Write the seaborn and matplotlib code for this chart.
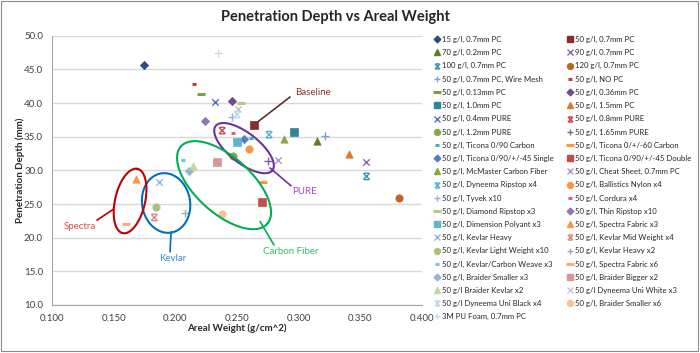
import numpy as np
import pandas as pd
import seaborn as sns
import matplotlib.pyplot as plt
from matplotlib.path import Path
from matplotlib.lines import Line2D
from matplotlib.patches import Rectangle

# series names in the order of the legend
labels = [
    "15 g/l, 0.7mm PC", "50 g/l, 0.7mm PC", "70 g/l, 0.2mm PC", "90 g/l, 0.7mm PC",
    "100 g/l, 0.7mm PC", "120 g/l, 0.7mm PC", "50 g/l, 0.7mm PC, Wire Mesh", "50 g/l, NO PC",
    "50 g/l, 0.13mm PC", "50 g/l, 0.36mm PC", "50 g/l, 1.0mm PC", "50 g/l, 1.5mm PC",
    "50 g/l, 0.4mm PURE", "50 g/l, 0.8mm PURE", "50 g/l, 1.2mm PURE", "50 g/l, 1.65mm PURE",
    "50 g/l, Ticona 0/90 Carbon", "50 g/l, Ticona 0/+/-60 Carbon",
    "50 g/l, Ticona 0/90/+/-45 Single", "50 g/l, Ticona 0/90/+/-45 Double",
    "50 g/l, McMaster Carbon Fiber", "50 g/l, Cheat Sheet, 0.7mm PC",
    "50 g/l, Dyneema Ripstop x4", "50 g/l, Ballistics Nylon x4", "50 g/l, Tyvek x10",
    "50 g/l, Cordura x4", "50 g/l, Diamond Ripstop x3", "50 g/l, Thin Ripstop x10",
    "50 g/l, Dimension Polyant x3", "50 g/l, Spectra Fabric x3", "50 g/l, Kevlar Heavy",
    "50 g/l, Kevlar Mid Weight x4", "50 g/l, Kevlar Light Weight x10", "50 g/l, Kevlar Heavy x2",
    "50 g/l, Kevlar/Carbon Weave x3", "50 g/l, Spectra Fabric x6", "50 g/l, Braider Smaller x3",
    "50 g/l, Braider Bigger x2", "50 g/l Braider Kevlar x2", "50 g/l Dyneema Uni White x3",
    "50 g/l Dyneema Uni Black x4", "50 g/l, Braider Smaller x6", "3M PU Foam, 0.7mm PC",
]
areal_weight = [
    0.175, 0.264, 0.315, 0.355, 0.355, 0.381, 0.321, 0.215,
    0.221, 0.246, 0.296, 0.341, 0.232, 0.238, 0.247, 0.275,
    0.261, 0.271, 0.256, 0.270, 0.288, 0.283, 0.276, 0.260,
    0.246, 0.247, 0.253, 0.224, 0.250, 0.168, 0.187, 0.183,
    0.184, 0.208, 0.206, 0.160, 0.211, 0.234, 0.214, 0.251,
    0.250, 0.238, 0.235,
]
depth = [
    45.7, 36.7, 34.4, 31.3, 29.1, 25.9, 35.1, 42.9,
    41.4, 40.3, 35.7, 32.4, 40.2, 35.9, 32.1, 31.4,
    34.8, 28.3, 34.7, 25.3, 34.6, 31.5, 35.3, 33.2,
    37.9, 35.5, 40.0, 37.4, 34.2, 28.7, 28.3, 23.0,
    24.5, 23.7, 31.6, 22.0, 29.9, 31.2, 30.7, 39.1,
    38.3, 23.5, 47.5,
]
colors = [
    "#2B4C7E", "#8A2C2A", "#5E7D2D", "#7F6FA8", "#3F95AE", "#C0632A", "#7F9FD0", "#B8403D",
    "#7EA044", "#6A4E8E", "#31859C", "#E0782F", "#4F75B5", "#C0504D", "#86A74A", "#8064A2",
    "#4BACC6", "#F79646", "#4F81BD", "#C0504D", "#8AA83F", "#A99BC8", "#5DB3CC", "#F79646",
    "#95B3D7", "#D9696A", "#B3CC7A", "#8E78B0", "#5FB4CF", "#F79646", "#9AB2DA", "#D98C8A",
    "#A9C479", "#AE9ECA", "#7FC0D6", "#F9AC7A", "#95B3D7", "#D99694", "#C3D69B", "#CCC1DA",
    "#B7DEE8", "#FAC090", "#C6D9F1",
]

df = pd.DataFrame({"series": labels, "x": areal_weight, "y": depth, "color": colors})

# Excel-like marker cycle: diamond, square, triangle, x, star, circle, plus, short dash, long dash
star = Path([(-1, -1), (1, 1), (-1, 1), (1, -1), (-0.7, 1), (0.7, 1), (-0.7, -1), (0.7, -1)],
            [Path.MOVETO, Path.LINETO] * 4)
marker_cycle = [
    ("D", 18, "fill", 0.5), ("s", 26, "fill", 0.5), ("^", 28, "fill", 0.5),
    ("x", 22, "line", 1.0), (star, 22, "path", 1.0), ("o", 28, "fill", 0.5),
    ("+", 30, "line", 1.0), ("_", 12, "line", 2.2), ("_", 40, "line", 2.2),
]

sns.set_style("white")
plt.rcParams["font.family"] = ["Lato", "DejaVu Sans"]

fig = plt.figure(figsize=(7, 3.53), dpi=100)
ax = fig.add_axes([52 / 700, 1 - 305 / 353, 370 / 700, 269.3 / 353])

for i, row in df.iterrows():
    m, s, kind, lw = marker_cycle[i % 9]
    sub = df.iloc[[i]]
    if kind == "fill":
        sns.scatterplot(data=sub, x="x", y="y", marker=m, s=s, color=row["color"],
                        edgecolor=row["color"], linewidth=lw, ax=ax, zorder=3)
    elif kind == "path":
        sns.scatterplot(data=sub, x="x", y="y", marker=m, s=s, color=row["color"],
                        facecolor="none", edgecolor=row["color"], linewidth=lw, ax=ax, zorder=3)
    else:
        sns.scatterplot(data=sub, x="x", y="y", marker=m, s=s, color=row["color"],
                        linewidth=lw, ax=ax, zorder=3)

ax.set_xlim(0.1, 0.4)
ax.set_ylim(10, 50)
ax.set_xticks(np.arange(0.1, 0.401, 0.05))
ax.set_yticks(np.arange(10, 50.1, 5))
ax.set_xticklabels([f"{v:.3f}" for v in np.arange(0.1, 0.401, 0.05)])
ax.set_yticklabels([f"{v:.1f}" for v in np.arange(10, 50.1, 5)])
ax.tick_params(labelsize=7, colors="#404040", length=3, width=0.8, direction="out")
ax.tick_params(axis="both", color="#A6A6A6")
ax.yaxis.grid(True, color="#D9D9D9", lw=1)
ax.set_axisbelow(True)
for sp in ["top", "right"]:
    ax.spines[sp].set_visible(False)
for sp in ["left", "bottom"]:
    ax.spines[sp].set_color("#A6A6A6")
    ax.spines[sp].set_linewidth(0.8)
ax.set_xlabel("Areal Weight (g/cm^2)", fontsize=7, fontweight="bold")
ax.set_ylabel("Penetration Depth (mm)", fontsize=7, fontweight="bold")
ax.xaxis.set_label_coords(0.5, -0.07)
ax.yaxis.set_label_coords(-0.072, 0.5)

fig.text(335 / 700, 1 - 17 / 353, "Penetration Depth vs Areal Weight", ha="center",
         va="center", fontsize=10.5, fontweight="bold")

# hand-drawn style callouts (ellipse axes in pixels, converted to data units)
sx, sy = 0.3 / 370, 40 / 269.3


def ellipse(cx, cy, a, b, angle, color):
    t = np.linspace(0, 2 * np.pi, 200)
    th = np.deg2rad(angle)
    dx = a * np.cos(t) * np.cos(th) - b * np.sin(t) * np.sin(th)
    dy = a * np.cos(t) * np.sin(th) + b * np.sin(t) * np.cos(th)
    ax.plot(cx + dx * sx, cy - dy * sy, color=color, lw=1.5, zorder=4)


ellipse(0.2557, 33.3, 36, 15, 38, "#7030A0")
ellipse(0.2395, 27.8, 58, 28, 42, "#00B050")
ellipse(0.1925, 25.15, 30, 24, 80, "#0070C0")
ellipse(0.1633, 25.45, 33, 15, -77, "#C00000")

callouts = [
    ("Spectra", (0.1495, 24.2), (0.1365, 22.6), (0.1223, 21.6), "#C00000", "#E04848"),
    ("Kevlar", (0.1965, 20.7), (0.1957, 17.9), (0.198, 16.9), "#0070C0", "#3C8CD2"),
    ("Carbon Fiber", (0.2687, 22.4), (0.280, 18.9), (0.2938, 17.9), "#00B050", "#2EC060"),
    ("PURE", (0.2768, 30.35), (0.2938, 27.7), (0.3048, 26.8), "#7030A0", "#A048C8"),
    ("Baseline", (0.2654, 37.0), (0.2930, 40.9), (0.3117, 41.5), "#6B2A2A", "#8B3030"),
]
for txt, p0, p1, pt, lc, tc in callouts:
    ax.plot([p0[0], p1[0]], [p0[1], p1[1]], color=lc, lw=1.2, zorder=4)
    ax.text(pt[0], pt[1], txt, color=tc, fontsize=7, ha="center", va="center", zorder=5)

# legend, filled row by row like the original
handles = []
for i, (lab, c) in enumerate(zip(labels, colors)):
    m, s, kind, lw = marker_cycle[i % 9]
    ms = np.sqrt(s) * 0.8
    if kind == "fill":
        h = Line2D([], [], ls="none", marker=m, ms=ms, color=c, mec=c, label=lab)
    elif kind == "path":
        h = Line2D([], [], ls="none", marker=m, ms=ms, mfc="none", mec=c, mew=lw, label=lab)
    else:
        h = Line2D([], [], ls="none", marker=m, ms=ms, color=c, mew=lw, label=lab)
    handles.append(h)

leg_kw = dict(loc="upper left", frameon=False, fontsize=5.6, handlelength=0.9,
              handletextpad=0.3, labelspacing=0.79, borderpad=0, borderaxespad=0,
              labelcolor="#262626")
leg1 = fig.legend(handles=handles[0::2], bbox_to_anchor=(433 / 700, 1 - 36 / 353), **leg_kw)
leg2 = fig.legend(handles=handles[1::2], bbox_to_anchor=(566 / 700, 1 - 36 / 353), **leg_kw)

fig.patches.append(Rectangle((0.002, 0.006), 0.995, 0.99, transform=fig.transFigure,
                             fill=False, edgecolor="#8C8C8C", lw=0.8))

fig.savefig("out.png", dpi=100)
